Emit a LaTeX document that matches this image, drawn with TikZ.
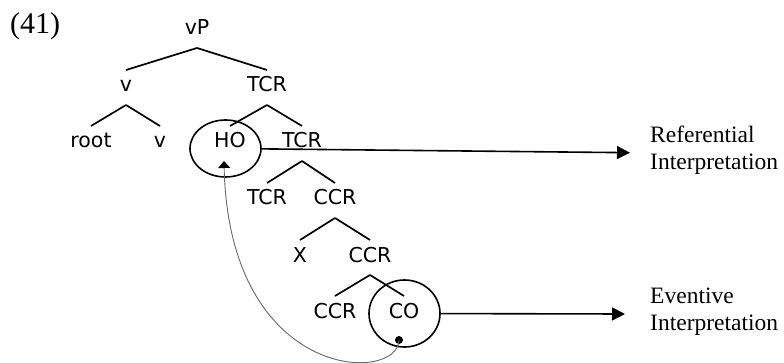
\documentclass[tikz,border=0pt]{standalone}
\usepackage{fontspec}
\setmainfont{Liberation Serif}
\newfontfamily\treefont{DejaVu Sans}
\usetikzlibrary{calc,shapes.geometric,arrows.meta}

\begin{document}
\begin{tikzpicture}[x=1pt,y=-1pt,
  lab/.style={font=\treefont\fontsize{20.5}{24}\selectfont, inner sep=0pt, anchor=base},
  branch/.style={line width=1.7pt},
  ring/.style={draw, ellipse, line width=1.6pt, inner sep=0pt},
  outarrow/.style={line width=1.6pt, -{Triangle[length=13pt,width=13pt]}},
  gloss/.style={font=\fontsize{23.5}{27}\selectfont, inner sep=0pt, anchor=base west},
  move/.style={draw=black!60, line width=0.9pt, -{Triangle[length=7pt,width=12pt,color=black]}}
]
\useasboundingbox (0,0) rectangle (784,363);

% example number
\node[font=\fontsize{30}{32}\selectfont, inner sep=0pt, anchor=base west] (exnum) at (10,34) {(41)};

% tree labels
\node[lab] (vP)   at (197,35)  {vP};
\node[lab] (v1)   at (126,92)  {v};
\node[lab] (tcr1) at (267,92)  {TCR};
\node[lab] (root) at (91,148)  {root};
\node[lab] (v2)   at (160,148) {v};
\node[lab] (ho)   at (230,148) {HO};
\node[lab] (tcr2) at (302,148) {TCR};
\node[lab] (tcr3) at (267,205) {TCR};
\node[lab] (ccr1) at (335,205) {CCR};
\node[lab] (xx)   at (300,262) {X};
\node[lab] (ccr2) at (370,262) {CCR};
\node[lab] (ccr3) at (335,318) {CCR};
\node[lab] (co)   at (404,318) {CO};

% branches
\foreach \p/\c in {vP/v1, vP/tcr1, v1/root, v1/v2, tcr1/ho, tcr1/tcr2,
                   tcr2/tcr3, tcr2/ccr1, ccr1/xx, ccr1/ccr2, ccr2/ccr3, ccr2/co}
  \draw[branch] ($(\p.base)+(0,13)$) -- ($(\c.base)+(0,-22)$);

% circled heads
\node[ring, minimum width=71pt, minimum height=57pt] (hoRing) at (225.5,148.5) {};
\node[ring, minimum width=71pt, minimum height=67pt] (coRing) at (404.5,313.5) {};

% interpretations
\node[gloss] (ref1) at (650,143) {Referential};
\node[gloss] (ref2) at (650,170) {Interpretation};
\node[gloss] (ev1)  at (650,303) {Eventive};
\node[gloss] (ev2)  at (650,330) {Interpretation};

\coordinate (refTip) at (630,152.7);
\coordinate (evTip)  at (625,314);
\draw[outarrow] (hoRing) -- (refTip);
\draw[outarrow] (coRing) -- (evTip);

% movement from CO up to HO
\node[circle, fill=black, inner sep=0pt, minimum size=8pt] (mark) at (399,340) {};
\coordinate (hoFoot) at (224,161);
\draw[move] (mark.center) .. controls (398,384) and (229,382) .. (hoFoot);
\end{tikzpicture}
\end{document}
